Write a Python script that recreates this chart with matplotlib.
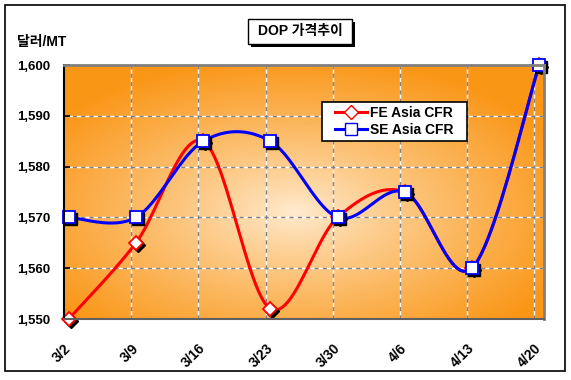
import numpy as np
import matplotlib.pyplot as plt
import matplotlib.transforms as mtransforms
from matplotlib.patches import Rectangle
from matplotlib.lines import Line2D

plt.rcParams['font.family'] = ['Liberation Sans', 'Noto Sans CJK KR', 'DejaVu Sans']

# --- data ---
dates = ['3/2', '3/9', '3/16', '3/23', '3/30', '4/6', '4/13', '4/20']
fe_asia = [1550, 1565, 1585, 1552, 1570, 1575, 1560, 1600]
se_asia = [1570, 1570, 1585, 1585, 1570, 1575, 1560, 1600]
y_ticks = [1550, 1560, 1570, 1580, 1590, 1600]
title = 'DOP 가격추이'
unit = '달러/MT'

W, H = 571, 380


def smooth(x, y, n=24):
    """Excel-like smoothed line (Catmull-Rom style bezier)."""
    p = np.column_stack([x, y]).astype(float)
    pp = np.vstack([p[0], p, p[-1]])
    out = []
    t = np.linspace(0, 1, n)[:, None]
    for i in range(len(p) - 1):
        p0, p1, p2, p3 = pp[i], pp[i + 1], pp[i + 2], pp[i + 3]
        b0 = p1
        b1 = p1 + (p2 - p0) / 6
        b2 = p2 - (p3 - p1) / 6
        b3 = p2
        seg = ((1 - t) ** 3) * b0 + 3 * ((1 - t) ** 2) * t * b1 + 3 * (1 - t) * t ** 2 * b2 + t ** 3 * b3
        out.append(seg if i == 0 else seg[1:])
    out = np.vstack(out)
    return out[:, 0], out[:, 1]


fig = plt.figure(figsize=(W / 100, H / 100), dpi=100)

# outer frame
fig.patches.append(Rectangle((5 / W, 1 - 371 / H), 560 / W, 366 / H, transform=fig.transFigure,
                             fill=False, edgecolor='black', linewidth=1.2))

ax = fig.add_axes([64 / W, 1 - 319 / H, (544 - 64) / W, (319 - 65) / H])

# x positions in days, points sit a bit right of the week gridlines
tick_pos = np.arange(len(dates)) * 7
x = tick_pos + 0.5
ax.set_xlim(0, 50)
ax.set_ylim(1550, 1600)

# --- radial gradient background ---
gx = np.linspace(0, 1, 300)
gy = np.linspace(0, 1, 200)
GX, GY = np.meshgrid(gx, gy)
d = np.sqrt(((GX - 0.48) / 0.62) ** 2 + ((GY - 0.42) / 0.62) ** 2)
d = np.clip(d, 0, 1) ** 0.85
c_in = np.array([255, 236, 210]) / 255
c_out = np.array([250, 150, 22]) / 255
img = c_in[None, None, :] * (1 - d[..., None]) + c_out[None, None, :] * d[..., None]
ax.imshow(img, extent=[0, 50, 1550, 1600], aspect='auto', origin='lower', zorder=0)

# grid
for yv in y_ticks[1:-1]:
    ax.axhline(yv, color='white', lw=1, zorder=1)
    ax.axhline(yv, color='#808080', lw=1, ls=(0, (3, 3)), zorder=1.1)
for xv in tick_pos[1:]:
    ax.axvline(xv, color='white', lw=1, zorder=1)
    ax.axvline(xv, color='#808080', lw=1, ls=(0, (3, 3)), zorder=1.1)

# lines (SE drawn on top of FE)
fx, fy = smooth(x, fe_asia)
sx, sy = smooth(x, se_asia)
ax.plot(fx, fy, color='#ff0000', lw=2.2, zorder=3, solid_capstyle='round')
ax.plot(sx, sy, color='#0000ff', lw=2.2, zorder=3.5, solid_capstyle='round')

# markers with shadow
shadow = mtransforms.offset_copy(ax.transData, fig=fig, x=2, y=-2, units='dots')
ax.plot(x, fe_asia, 'D', ms=7, color='black', transform=shadow, zorder=4, clip_on=False)
ax.plot(x, fe_asia, 'D', ms=7, mfc='white', mec='#ff0000', mew=1.3, zorder=4.5, clip_on=False)
ax.plot(x, se_asia, 's', ms=8, color='black', transform=shadow, zorder=5, clip_on=False)
ax.plot(x, se_asia, 's', ms=8, mfc='white', mec='#0000ff', mew=1.3, zorder=5.5, clip_on=False)

# axes styling
ax.set_yticks(y_ticks)
ax.set_yticklabels([f'{v:,}' for v in y_ticks], fontsize=9.5, fontweight='bold')
ax.set_xticks(tick_pos)
ax.set_xticklabels(dates, fontsize=10, fontweight='bold', rotation=45, ha='right', va='top',
                   rotation_mode='anchor')
ax.tick_params(axis='y', direction='in', length=4, width=1.2, pad=10)
ax.tick_params(axis='x', length=0, pad=16)
for s in ['top', 'right']:
    ax.spines[s].set_color('#808080')
    ax.spines[s].set_linewidth(2)
ax.spines['left'].set_color('black')
ax.spines['left'].set_linewidth(1.5)
ax.spines['bottom'].set_color('#606060')
ax.spines['bottom'].set_linewidth(1.5)
for s in ax.spines.values():
    s.set_zorder(6)

# legend (frame drawn separately to match the box size)
fig.patches.append(Rectangle((322 / W, 1 - 141 / H), 145 / W, 39 / H, transform=fig.transFigure,
                             facecolor='white', edgecolor='black', linewidth=1.2, zorder=9))
handles = [
    Line2D([], [], color='#ff0000', lw=2.2, marker='D', ms=7, mfc='white', mec='#ff0000'),
    Line2D([], [], color='#0000ff', lw=2.2, marker='s', ms=8, mfc='white', mec='#0000ff'),
]
leg = fig.legend(handles, ['FE Asia CFR', 'SE Asia CFR'], loc='center left',
                 bbox_to_anchor=(335 / W, 1 - 121.5 / H), prop={'size': 10, 'weight': 'bold'},
                 frameon=False, handlelength=2.3, handletextpad=0.25, labelspacing=0.25,
                 borderpad=0, borderaxespad=0)
leg.set_zorder(10)

# title box with shadow
fig.patches.append(Rectangle((251 / W, 1 - 46.5 / H), 104 / W, 25 / H, transform=fig.transFigure,
                             facecolor='black', edgecolor='none'))
fig.patches.append(Rectangle((248 / W, 1 - 44 / H), 104 / W, 25 / H, transform=fig.transFigure,
                             facecolor='white', edgecolor='black', linewidth=1))
fig.text(300 / W, 1 - 31.5 / H, title, ha='center', va='center', fontsize=10, fontweight='bold')

fig.text(17 / W, 1 - 42 / H, unit, ha='left', va='center', fontsize=10, fontweight='bold')

fig.savefig('out.png', dpi=100)
